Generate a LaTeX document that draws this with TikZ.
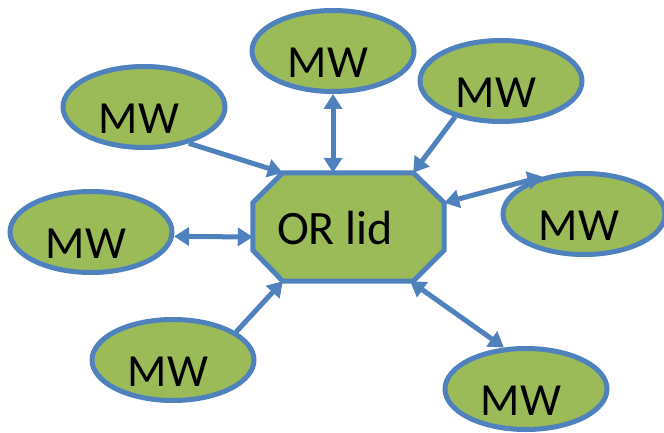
\documentclass[tikz,border=0pt]{standalone}
\usepackage{fontspec}
\setmainfont{Carlito}
\usetikzlibrary{arrows.meta,shapes.geometric}
\definecolor{mwgreen}{HTML}{9BBB59}
\definecolor{mwblue}{HTML}{4F81BD}
\begin{document}
\begin{tikzpicture}[x=1pt,y=-1pt,
  mw/.style={ellipse, draw=mwblue, fill=mwgreen, line width=5pt,
    minimum width=162pt, minimum height=81pt, inner sep=0pt,
    label={[xshift=-5pt,yshift=-12pt,font=\fontsize{46}{52}\selectfont]center:MW}},
  link/.style={draw=mwblue, line width=5pt},
  tipx/.tip={Triangle[length=15pt,width=18pt]},
  one/.style={link, -tipx},
  two/.style={link, tipx-tipx},
]
\useasboundingbox (0,0) rectangle (664,433);

\node[mw] (top) at (333,51) {};
\node[mw] (tl) at (144,107) {};
\node[mw] (tr) at (501,81) {};
\node[mw] (rt) at (584,214) {};
\node[mw] (lf) at (91,232) {};
\node[mw] (bl) at (173,360) {};
\node[mw] (br) at (526,389) {};

\node[rectangle, minimum width=191pt, minimum height=108pt, inner sep=0pt] (or) at (348.5,227) {};
\filldraw[draw=mwblue, fill=mwgreen, line width=5pt, line join=miter]
  ([xshift=30pt]or.north west) -- ([xshift=-31pt]or.north east)
  -- ([yshift=-30pt]or.north east) -- ([yshift=31pt]or.south east)
  -- ([xshift=-31pt]or.south east) -- ([xshift=30pt]or.south west)
  -- ([yshift=31pt]or.south west) -- ([yshift=-30pt]or.north west) -- cycle;
\node[font=\fontsize{48}{54}\selectfont, inner sep=0pt] (ortext) at ([xshift=-13.5pt,yshift=-1pt]or.center) {OR lid};

\draw[two] (top.south) -- ([xshift=-15.5pt]or.north);
\draw[one] (tl.-39) -- ([xshift=30pt]or.north west);
\draw[one] (tr.-142) -- ([xshift=-31pt]or.north east);
\draw[two] (rt.138) -- ([yshift=-30pt]or.north east);
\draw[two] (lf.-3) -- ([yshift=-10pt]or.west);
\draw[one] (bl.24) -- ([xshift=30pt]or.south west);
\draw[two] (br.118) -- ([xshift=-34pt]or.south east);
\end{tikzpicture}
\end{document}
